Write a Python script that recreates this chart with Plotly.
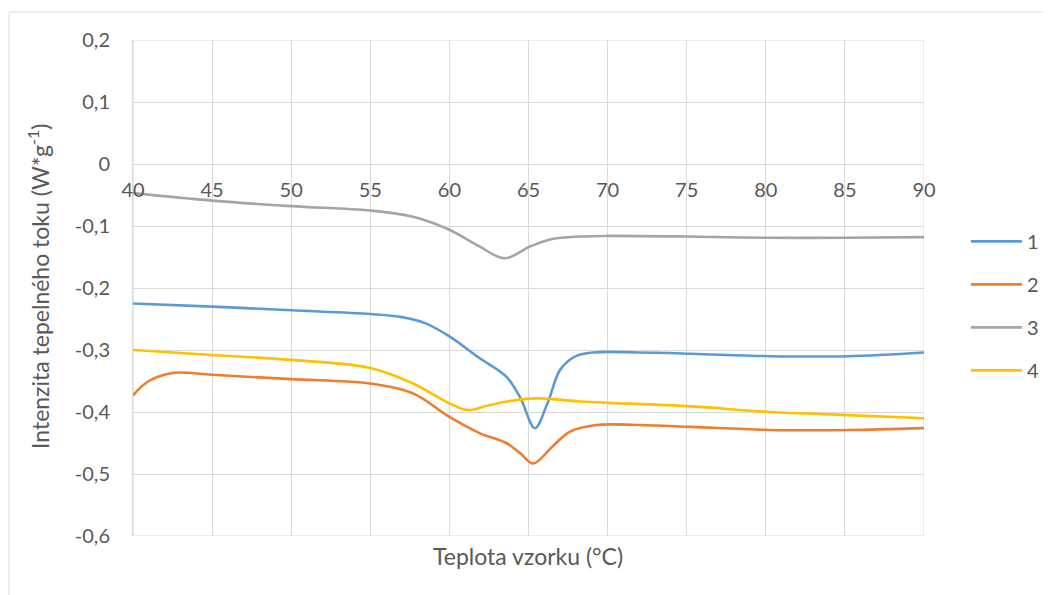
import plotly.graph_objects as go

# ---- data ----
x1 = [40, 45, 50, 55, 57, 58.5, 60, 61.9, 63.6, 64.5, 65.4, 66.2, 67.0, 67.9, 69.1, 72, 75.3, 80.3, 85.2, 90]
s1 = [-0.225, -0.230, -0.236, -0.242, -0.247, -0.257, -0.278, -0.313, -0.343, -0.378, -0.426, -0.386, -0.332, -0.311, -0.304, -0.304, -0.306, -0.310, -0.310, -0.304]

x2 = [40, 41, 42.5, 45, 50, 55, 57.7, 60, 61.9, 63.6, 64.5, 65.3, 66.5, 67.6, 69.3, 72, 75.3, 80.3, 85.2, 90]
s2 = [-0.373, -0.350, -0.337, -0.340, -0.347, -0.354, -0.370, -0.408, -0.434, -0.450, -0.467, -0.483, -0.456, -0.432, -0.421, -0.421, -0.424, -0.429, -0.429, -0.426]

x3 = [40, 45, 50, 55, 57.7, 60, 61.9, 63.5, 65.1, 66.5, 68.3, 70, 75, 80, 85, 90]
s3 = [-0.047, -0.059, -0.068, -0.075, -0.085, -0.106, -0.133, -0.152, -0.133, -0.121, -0.117, -0.116, -0.117, -0.119, -0.119, -0.118]

x4 = [40, 45, 50, 55, 57.7, 60, 61.2, 62.5, 64.4, 65.7, 68.3, 70, 75.3, 80.3, 85.2, 90]
s4 = [-0.300, -0.308, -0.316, -0.329, -0.354, -0.386, -0.397, -0.389, -0.380, -0.378, -0.383, -0.385, -0.391, -0.400, -0.405, -0.410]

names = ["1", "2", "3", "4"]
colors = ["#5B9BD5", "#ED7D31", "#A5A5A5", "#FFC000"]

x_ticks = [40, 45, 50, 55, 60, 65, 70, 75, 80, 85, 90]
x_ticktext = ["40", "45", "50", "55", "60", "65", "70", "75", "80", "85", "90"]
y_ticks = [0.2, 0.1, 0, -0.1, -0.2, -0.3, -0.4, -0.5, -0.6]
y_ticktext = ["0,2", "0,1", "0", "-0,1", "-0,2", "-0,3", "-0,4", "-0,5", "-0,6"]

x_title = "Teplota vzorku (°C)"
y_title = "Intenzita tepelného toku (W*g<sup>-1</sup>)"

FONT = "Lato"
FS = 20
FS_TITLE = 23
TXT = "#595959"
GRID = "#D9D9D9"

fig = go.Figure()
for xs, ys, n, c in zip([x1, x2, x3, x4], [s1, s2, s3, s4], names, colors):
    fig.add_trace(go.Scatter(x=xs, y=ys, name=n, mode="lines",
                             line=dict(color=c, width=2.6, shape="spline", smoothing=1.0),
                             legendgroup=n))

fig.update_layout(
    width=1051, height=595,
    margin=dict(l=125, r=135, t=32, b=67),
    paper_bgcolor="white", plot_bgcolor="white",
    font=dict(family=FONT, size=FS, color=TXT),
    xaxis=dict(range=[40, 90], tickvals=x_ticks, ticktext=x_ticktext,
               showgrid=True, gridcolor=GRID, gridwidth=1,
               anchor="free", position=0.75, showline=True, linecolor=GRID, linewidth=1,
               ticks="", ticklabelstandoff=8, zeroline=False,
               tickfont=dict(family=FONT, size=FS, color=TXT)),
    yaxis=dict(range=[-0.6, 0.2], tickvals=y_ticks, ticktext=y_ticktext,
               showgrid=True, gridcolor=GRID, gridwidth=1, zeroline=False,
               showline=True, linecolor=GRID, linewidth=1, mirror=False,
               ticks="", ticklabelstandoff=18,
               tickfont=dict(family=FONT, size=FS, color=TXT)),
    legend=dict(x=1.053, y=0.464, xanchor="left", yanchor="middle",
                font=dict(family=FONT, size=FS, color=TXT),
                tracegroupgap=14, itemwidth=51, bgcolor="rgba(0,0,0,0)"),
    showlegend=True,
)

# gridlines at top and right edge
fig.add_shape(type="rect", xref="x", yref="y", x0=40, x1=90, y0=-0.6, y1=0.2,
              line=dict(color=GRID, width=1), layer="below")

# outer chart border
fig.add_shape(type="rect", xref="paper", yref="paper",
              x0=(9 - 133) / 791, x1=(1045 - 133) / 791,
              y0=(536 - 620) / 496, y1=(536 - 12) / 496,
              line=dict(color="#D9D9D9", width=1))

fig.add_annotation(text=x_title, xref="paper", yref="paper",
                   x=(528 - 133) / 791, y=(536 - 556) / 496, showarrow=False,
                   xanchor="center", yanchor="middle",
                   font=dict(family=FONT, size=FS_TITLE, color=TXT))
fig.add_annotation(text=y_title, xref="paper", yref="paper",
                   x=(38 - 133) / 791, y=(536 - 287) / 496, showarrow=False,
                   textangle=-90, xanchor="center", yanchor="middle",
                   font=dict(family=FONT, size=FS_TITLE, color=TXT))

fig.write_html("out.html")
